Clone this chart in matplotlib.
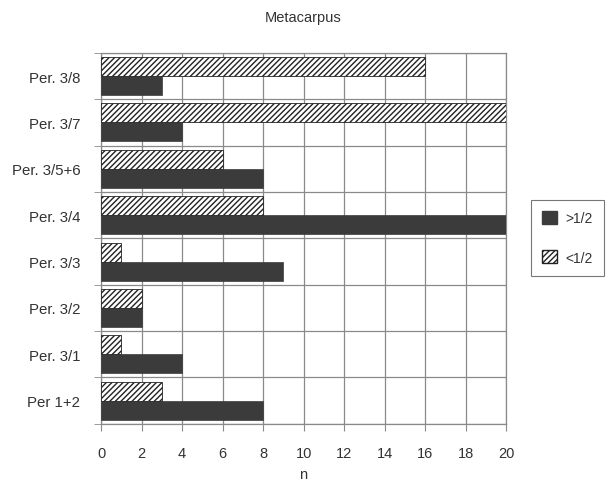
import numpy as np
import matplotlib

matplotlib.use("Agg")
import matplotlib.pyplot as plt
from matplotlib.patches import Patch

# data, top to bottom as in the chart
categories = ["Per. 3/8", "Per. 3/7", "Per. 3/5+6", "Per. 3/4",
              "Per. 3/3", "Per. 3/2", "Per. 3/1", "Per 1+2"]
over_half = [3, 4, 8, 20, 9, 2, 4, 8]      # >1/2 (solid)
under_half = [16, 20, 6, 8, 1, 2, 1, 3]    # <1/2 (hatched)

DARK = "#3b3b3b"
GRID = "#8a8a8a"
TXT = "#333333"

plt.rcParams["hatch.linewidth"] = 1.0
plt.rcParams["font.family"] = ["Liberation Sans", "DejaVu Sans"]

fig = plt.figure(figsize=(6.09, 4.85), dpi=100)
ax = fig.add_axes([0.166, 0.124, 0.665, 0.765])

n = len(categories)
y = np.arange(n)[::-1]  # first category at top
h = 0.41

ax.barh(y - h / 2, over_half, height=h, color=DARK, edgecolor=DARK,
        linewidth=0.5, zorder=3)
ax.barh(y + h / 2, under_half, height=h, color="white", edgecolor="#222222",
        hatch="//////", linewidth=0.6, zorder=3)

ax.set_xlim(0, 20)
ax.set_ylim(-0.5, n - 0.5)
ax.set_xticks(np.arange(0, 21, 2))
ax.set_yticks(y)
ax.set_yticklabels(categories)
ax.set_yticks(np.arange(-0.5, n, 1), minor=True)

ax.tick_params(axis="y", which="major", length=0, pad=15, labelsize=10.8,
               colors=TXT)
ax.tick_params(axis="y", which="minor", length=5, color=GRID)
ax.tick_params(axis="x", length=5, color=GRID, pad=11, labelsize=10.5,
               labelcolor=TXT)

ax.grid(axis="x", which="major", color=GRID, linewidth=0.9, zorder=0)
ax.grid(axis="y", which="minor", color=GRID, linewidth=0.9, zorder=0)
for s in ax.spines.values():
    s.set_color(GRID)
    s.set_linewidth(0.9)

ax.set_xlabel("n", fontsize=10.5, color=TXT, labelpad=5)
ax.set_title("Metacarpus", fontsize=10.5, color=TXT, pad=23)

handles = [Patch(facecolor=DARK, edgecolor=DARK, label=">1/2"),
           Patch(facecolor="white", edgecolor="#222222", hatch="//////",
                 label="<1/2")]
leg = fig.legend(handles=handles, loc="center left",
                 bbox_to_anchor=(0.872, 0.508), borderaxespad=0,
                 frameon=True, fancybox=False,
                 fontsize=10, handlelength=1.1, handleheight=1.1,
                 labelspacing=1.8, borderpad=0.8, handletextpad=0.6)
leg.get_frame().set_edgecolor("#555555")
leg.get_frame().set_linewidth(0.8)
for t in leg.get_texts():
    t.set_color(TXT)

fig.savefig("out.png", dpi=100)
